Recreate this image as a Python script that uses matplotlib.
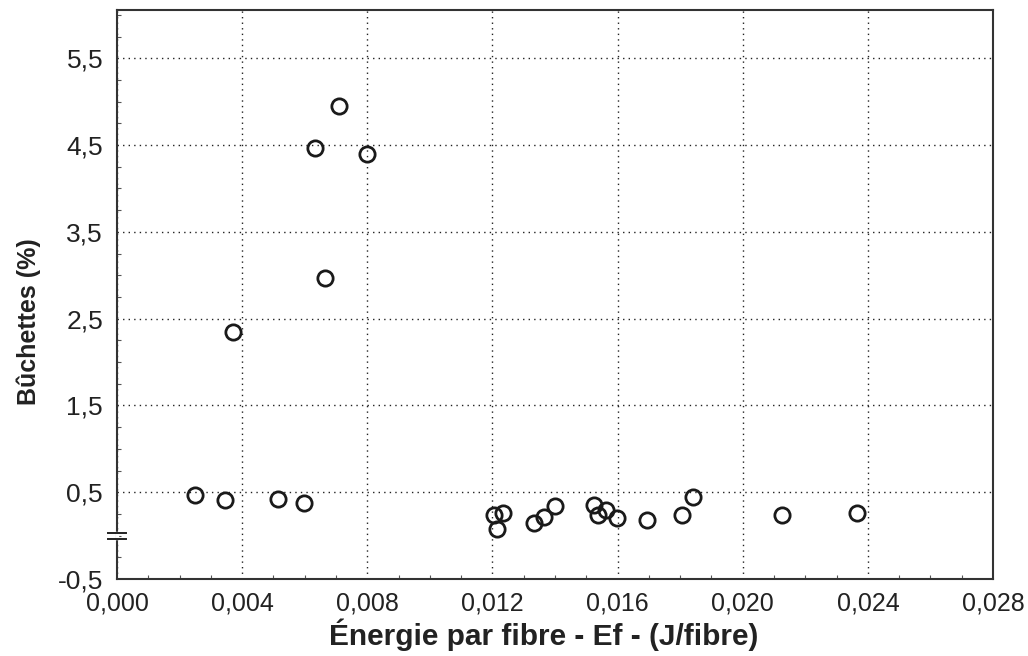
import numpy as np
import matplotlib.pyplot as plt
from matplotlib.ticker import MultipleLocator, FuncFormatter

plt.rcParams['font.family'] = ['Liberation Sans', 'DejaVu Sans']

# energie par fibre (J/fibre) et taux de buchettes (%)
energie = [0.00250, 0.00346, 0.00514, 0.00598, 0.00372, 0.00634, 0.00666,
           0.00708, 0.00799, 0.01206, 0.01234, 0.01213, 0.01332, 0.01366,
           0.01399, 0.01526, 0.01562, 0.01537, 0.01599, 0.01695, 0.01806,
           0.01842, 0.02127, 0.02365]
buchettes = [0.47, 0.41, 0.42, 0.38, 2.35, 4.47, 2.97,
             4.95, 4.40, 0.236, 0.255, 0.075, 0.14, 0.22,
             0.34, 0.35, 0.30, 0.24, 0.20, 0.18, 0.235,
             0.446, 0.235, 0.255]

x_ticks = [0.000, 0.004, 0.008, 0.012, 0.016, 0.020, 0.024, 0.028]
y_ticks = [-0.5, 0.5, 1.5, 2.5, 3.5, 4.5, 5.5]

fig = plt.figure(figsize=(10.28, 6.56), dpi=100)
ax = fig.add_axes([0.1138, 0.1174, 0.8522, 0.8678])

ax.plot(energie, buchettes, linestyle='none', marker='o', markersize=11,
        markerfacecolor='none', markeredgecolor='#1a1a1a', markeredgewidth=2.0,
        zorder=3)

ax.set_xlim(0, 0.028)
ax.set_ylim(-0.5, 6.06)
ax.set_xticks(x_ticks)
ax.set_yticks(y_ticks)
ax.xaxis.set_major_formatter(FuncFormatter(lambda v, p: f'{v:.3f}'.replace('.', ',')))
ax.yaxis.set_major_formatter(FuncFormatter(lambda v, p: f'{v:.1f}'.replace('.', ',')))
ax.xaxis.set_minor_locator(MultipleLocator(0.001))
ax.yaxis.set_minor_locator(MultipleLocator(0.25))
ax.tick_params(which='major', length=0, colors='#222222')
ax.tick_params(axis='x', which='major', labelsize=18, pad=9)
ax.tick_params(axis='y', which='major', labelsize=19, pad=10)
ax.tick_params(which='minor', direction='in', length=3, width=0.8, color='#555555')

ax.grid(True, which='major', linestyle=(0, (1, 3)), linewidth=1.0, color='#222222')
for s in ax.spines.values():
    s.set_linewidth(1.5)
    s.set_color('#333333')

# marque de coupure de l'axe vertical a y = 0
for yb in (-0.035, 0.035):
    ax.plot([-0.0003, 0.0003], [yb, yb], color='#222222', lw=1.4,
            clip_on=False, zorder=5)
ax.plot([0, 0], [-0.03, 0.03], color='white', lw=2.5, clip_on=False, zorder=4)

ax.set_xlabel('Énergie par fibre - Ef - (J/fibre)', fontsize=21.5,
              fontweight='bold', color='#222222')
ax.xaxis.set_label_coords(0.487, -0.07)
ax.set_ylabel('Bûchettes (%)', fontsize=18, fontweight='bold', color='#222222')
ax.yaxis.set_label_coords(-0.087, 0.452)

fig.savefig('out.png', dpi=100)
